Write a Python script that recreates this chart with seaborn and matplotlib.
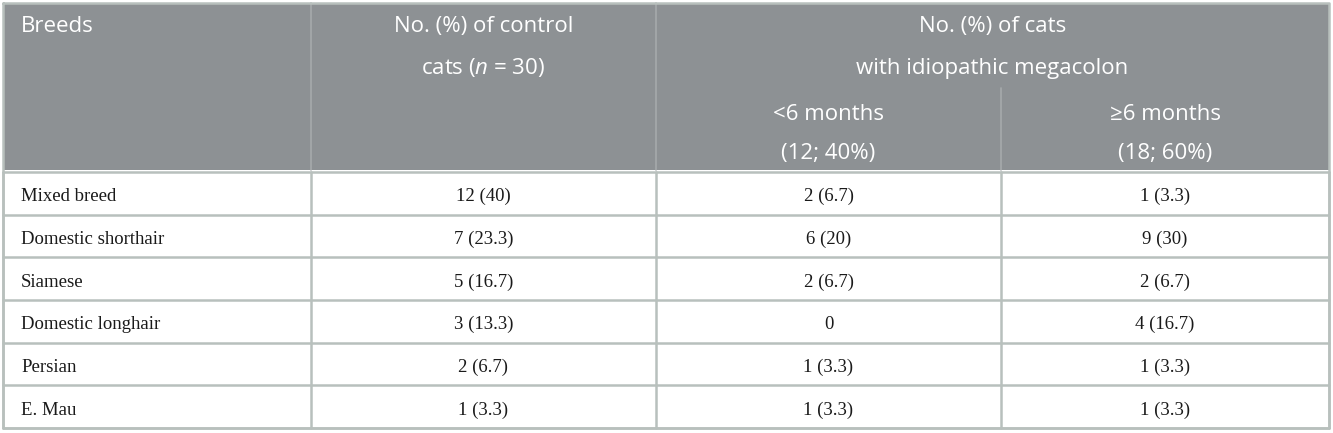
import matplotlib
matplotlib.use("Agg")
import matplotlib.pyplot as plt
from matplotlib.patches import Rectangle
import seaborn as sns

# Table content
breeds = ["Mixed breed", "Domestic shorthair", "Siamese", "Domestic longhair", "Persian", "E. Mau"]
control = ["12 (40)", "7 (23.3)", "5 (16.7)", "3 (13.3)", "2 (6.7)", "1 (3.3)"]
under_6m = ["2 (6.7)", "6 (20)", "2 (6.7)", "0", "1 (3.3)", "1 (3.3)"]
over_6m = ["1 (3.3)", "9 (30)", "2 (6.7)", "4 (16.7)", "1 (3.3)", "1 (3.3)"]

col_header = "Breeds"
control_header = ["No. (%) of control", r"cats ($\mathit{n}$ = 30)"]
mega_header = ["No. (%) of cats", "with idiopathic megacolon"]
sub_headers = [["<6 months", "(12; 40%)"], ["\u22656 months", "(18; 60%)"]]

sns.set_theme(style="white")
plt.rcParams["font.family"] = ["Open Sans", "DejaVu Sans"]
plt.rcParams["mathtext.fontset"] = "custom"
plt.rcParams["mathtext.rm"] = "Open Sans"
plt.rcParams["mathtext.it"] = "Open Sans:italic"

W, H = 1333, 433
fig = plt.figure(figsize=(W / 100, H / 100), dpi=100)
ax = fig.add_axes([0, 0, 1, 1])
ax.set_xlim(0, W)
ax.set_ylim(H, 0)
ax.axis("off")

# layout
left, right, top, bottom = 3, 1329, 3, 428
xs = [left, 311, 656, 1001, right]
head_bot = 170
sub_top = 88
row_top = 172
row_h = (bottom - row_top) / len(breeds)
head_base = [32, 74, 120, 159]  # baselines of header text lines

head_col = "#8d9194"
line_col = "#b8c0bd"
head_line = "#a6aaac"

ax.add_patch(Rectangle((left, top), right - left, head_bot - top, color=head_col, lw=0))
# header vertical lines
for x in xs[1:3]:
    ax.plot([x, x], [top, head_bot], color=head_line, lw=1.2)
ax.plot([xs[3], xs[3]], [sub_top, head_bot], color=head_line, lw=1.2)

# body grid
for i in range(len(breeds) + 1):
    y = row_top + i * row_h
    ax.plot([left, right], [y, y], color=line_col, lw=1.8)
for x in xs:
    ax.plot([x, x], [row_top, bottom], color=line_col, lw=1.8)
# outer border
ax.plot([left, right, right, left, left], [top, top, bottom, bottom, top], color=line_col, lw=1.8)

hfs = 16
ax.text(21, head_base[0], col_header, color="white", fontsize=hfs, va="baseline", ha="left")
c2 = (xs[1] + xs[2]) / 2
for k, t in enumerate(control_header):
    ax.text(c2, head_base[k], t, color="white", fontsize=hfs, va="baseline", ha="center")
c34 = (xs[2] + xs[4]) / 2
for k, t in enumerate(mega_header):
    ax.text(c34, head_base[k], t, color="white", fontsize=hfs, va="baseline", ha="center")
for j, lines in enumerate(sub_headers):
    cx = (xs[2 + j] + xs[3 + j]) / 2
    for k, t in enumerate(lines):
        ax.text(cx, head_base[2 + k], t, color="white", fontsize=hfs, va="baseline", ha="center")

bfs = 13.5
cols = [control, under_6m, over_6m]
for i, b in enumerate(breeds):
    y = row_top + (i + 0.5) * row_h + 8
    ax.text(21, y, b, fontsize=bfs, va="baseline", ha="left", family="Liberation Serif", color="#1a1a1a")
    for j, vals in enumerate(cols):
        cx = (xs[1 + j] + xs[2 + j]) / 2
        ax.text(cx, y, vals[i], fontsize=bfs, va="baseline", ha="center", family="Liberation Serif", color="#1a1a1a")

fig.savefig("out.png", dpi=100)
